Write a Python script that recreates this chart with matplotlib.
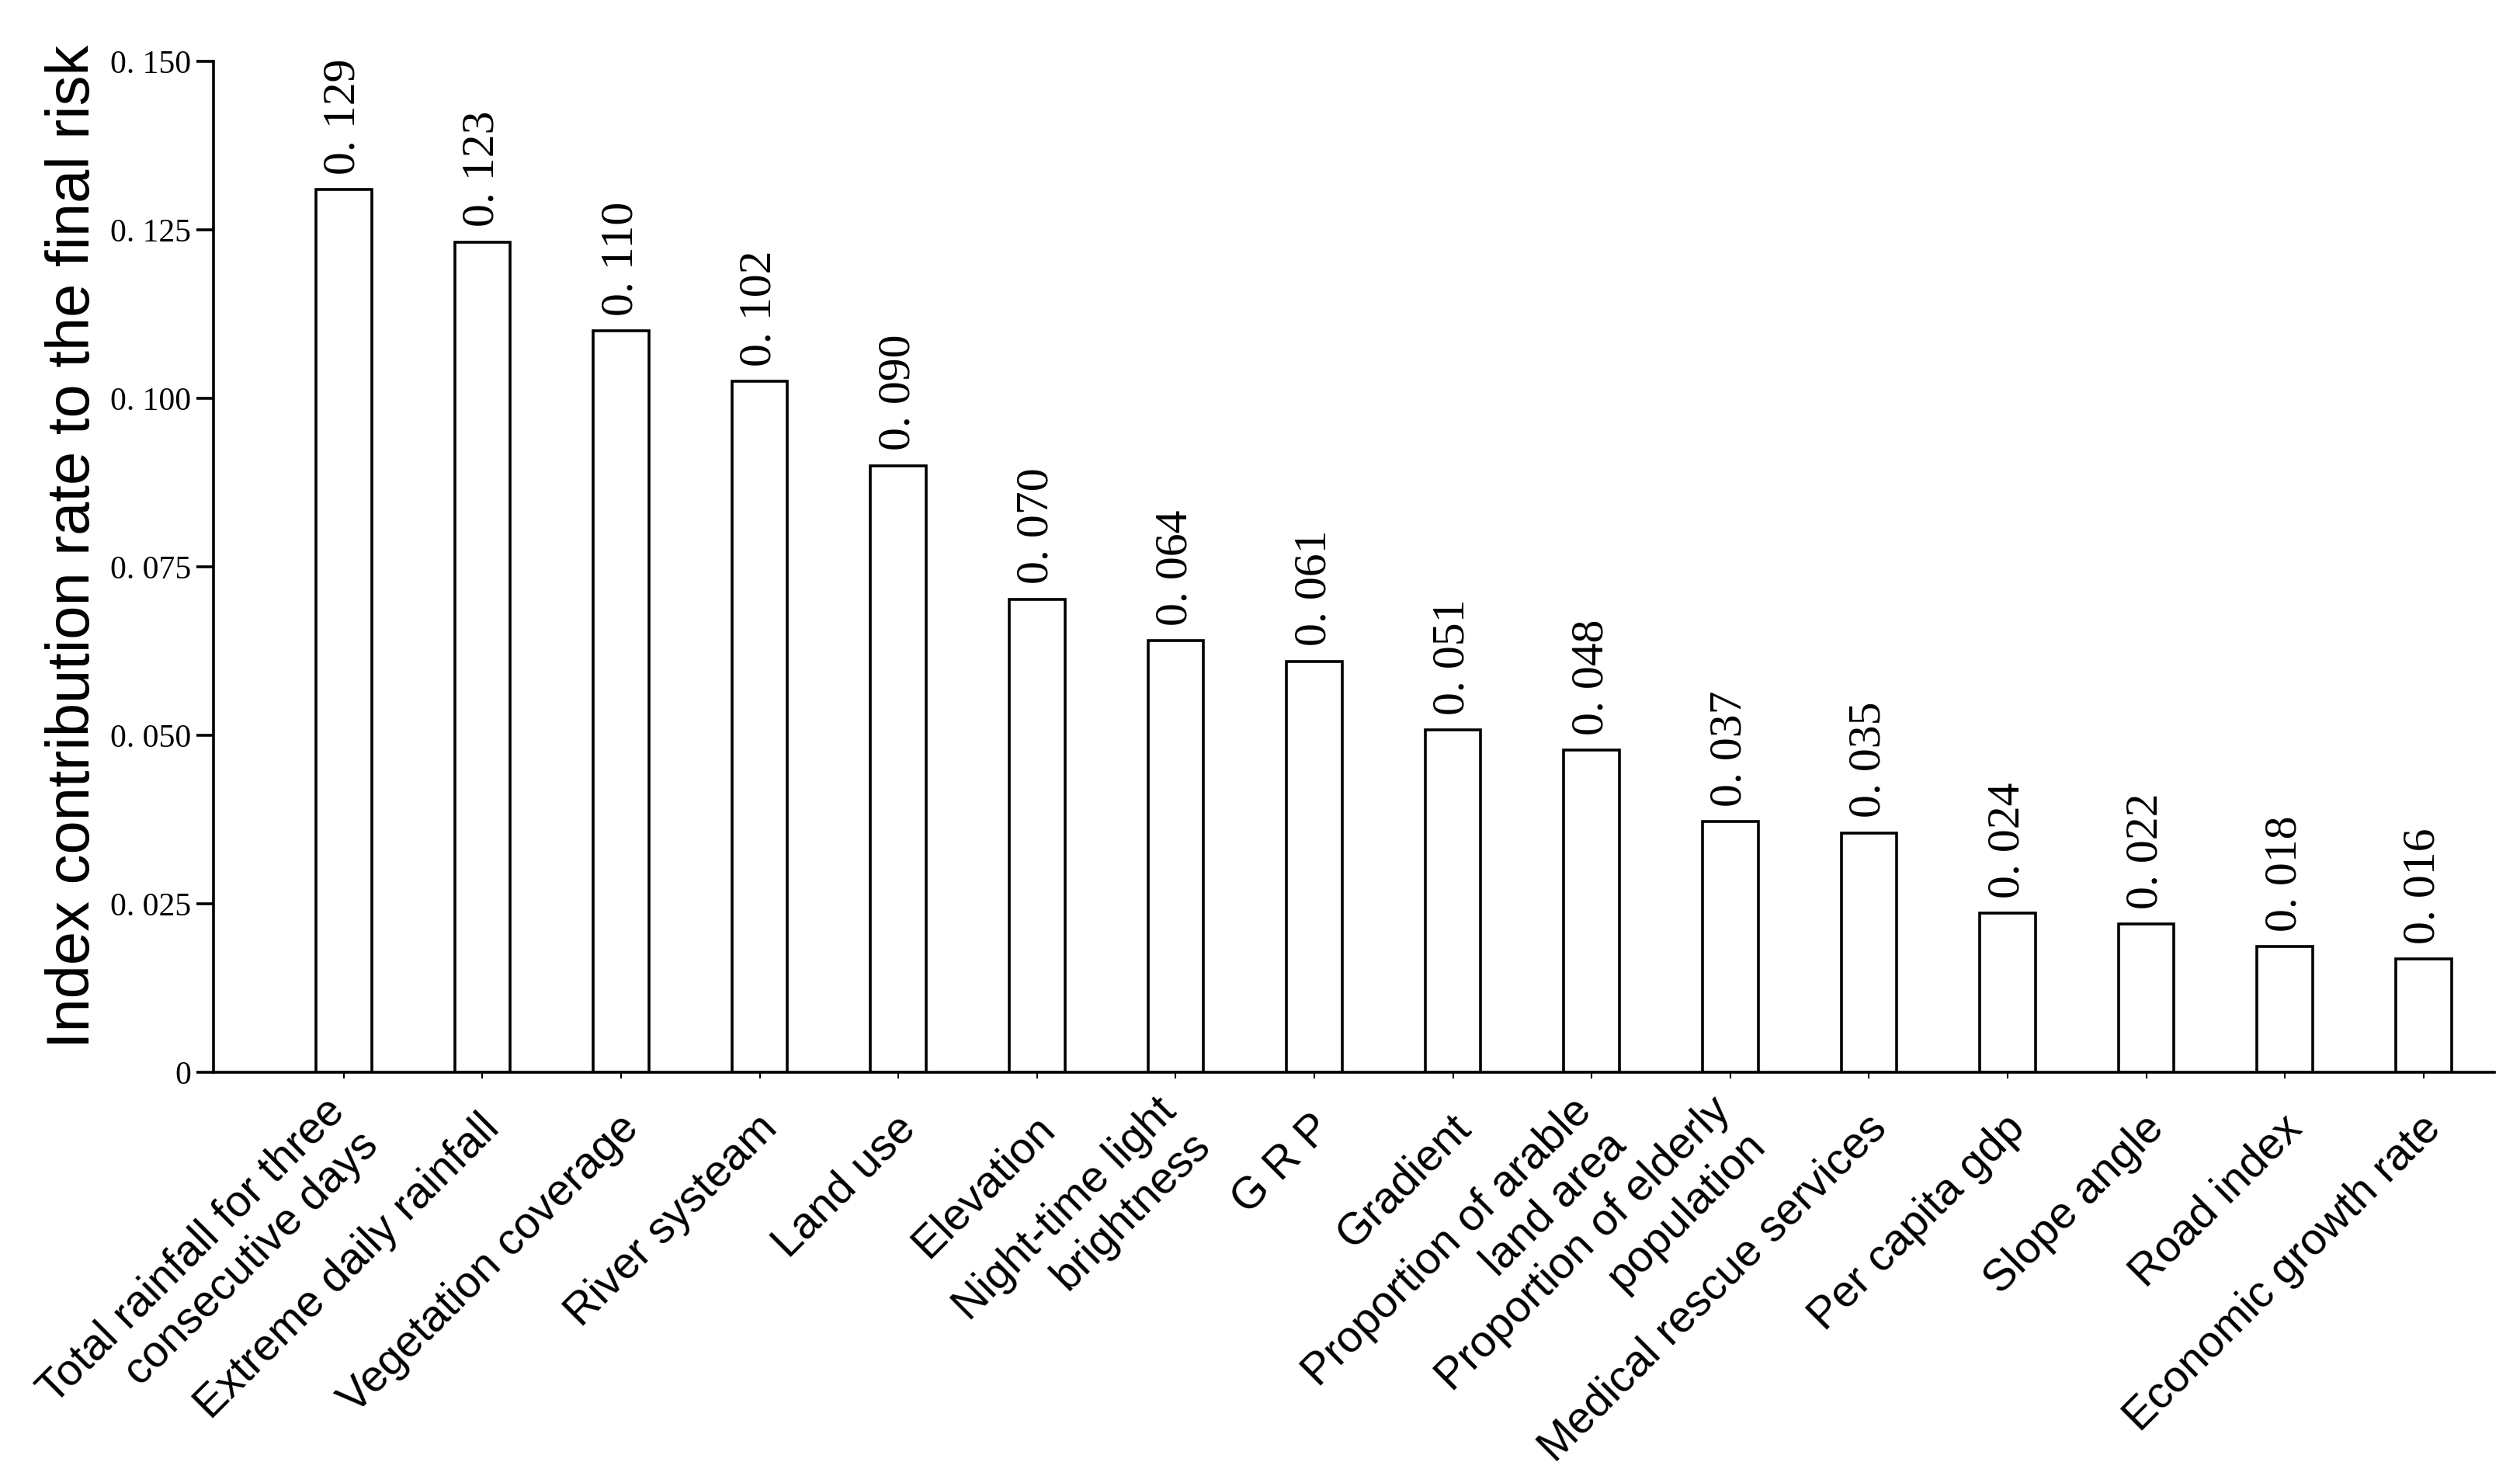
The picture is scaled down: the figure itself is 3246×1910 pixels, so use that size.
import numpy as np
import matplotlib
matplotlib.use('Agg')
import matplotlib.pyplot as plt
import matplotlib.transforms as mtransforms

# 指標名（x軸ラベル）
indicators = [
    'Total rainfall for three\nconsecutive days',
    'Extreme daily rainfall',
    'Vegetation coverage',
    'River systeam',
    'Land use',
    'Elevation',
    'Night-time light\nbrightness',
    'G R P',
    'Gradient',
    'Proportion of arable\nland area',
    'Proportion of elderly\npopulation',
    'Medical rescue services',
    'Per capita gdp',
    'Slope angle',
    'Road index',
    'Economic growth rate',
]

# 棒の高さ
contribution = [0.1310, 0.1232, 0.1100, 0.1025, 0.0900, 0.0702, 0.0640, 0.0610,
                0.0508, 0.0478, 0.0372, 0.0355, 0.0236, 0.0220, 0.0186, 0.0168]

# 棒の上に書かれている値
value_labels = ['0. 129', '0. 123', '0. 110', '0. 102', '0. 090', '0. 070', '0. 064', '0. 061',
                '0. 051', '0. 048', '0. 037', '0. 035', '0. 024', '0. 022', '0. 018', '0. 016']

y_ticks = [0, 0.025, 0.050, 0.075, 0.100, 0.125, 0.150]
y_tick_labels = ['0', '0. 025', '0. 050', '0. 075', '0. 100', '0. 125', '0. 150']

fig = plt.figure(figsize=(32.46, 19.10), dpi=100)
ax = fig.add_axes([0.0847, 0.2770, 0.9051, 0.6816])

x = np.arange(len(indicators))
bars = ax.bar(x, contribution, width=0.40, color='white', edgecolor='black', linewidth=2.6)

# 値ラベル
for xi, h, lab in zip(x, contribution, value_labels):
    ax.annotate(lab, (xi, h), xytext=(0, 14), textcoords='offset points',
                rotation=90, ha='center', va='bottom',
                fontsize=43, family='Liberation Serif')

ax.set_xlim(-0.94, 15.51)
ax.set_ylim(0, 0.150)

ax.spines['top'].set_visible(False)
ax.spines['right'].set_visible(False)
ax.spines['left'].set_linewidth(2.6)
ax.spines['bottom'].set_linewidth(2.6)

ax.set_yticks(y_ticks)
ax.set_yticklabels(y_tick_labels, family='Liberation Serif', fontsize=30)
ax.tick_params(axis='y', length=16, width=2.6, pad=5)

ax.set_xticks(x)
ax.set_xticklabels(indicators, rotation=45, ha='right', va='center',
                   rotation_mode='anchor', family='Liberation Sans', fontsize=41)
ax.tick_params(axis='x', length=6, width=1.5, pad=40)
offset = mtransforms.ScaledTranslation(14 / 100, 0, fig.dpi_scale_trans)
for lbl in ax.get_xticklabels():
    lbl.set_transform(lbl.get_transform() + offset)

ax.set_ylabel('Index contribution rate to the final risk', family='Liberation Sans', fontsize=56)
ax.yaxis.set_label_coords(-0.049, 0.52)

fig.savefig('out.png', dpi=100)
